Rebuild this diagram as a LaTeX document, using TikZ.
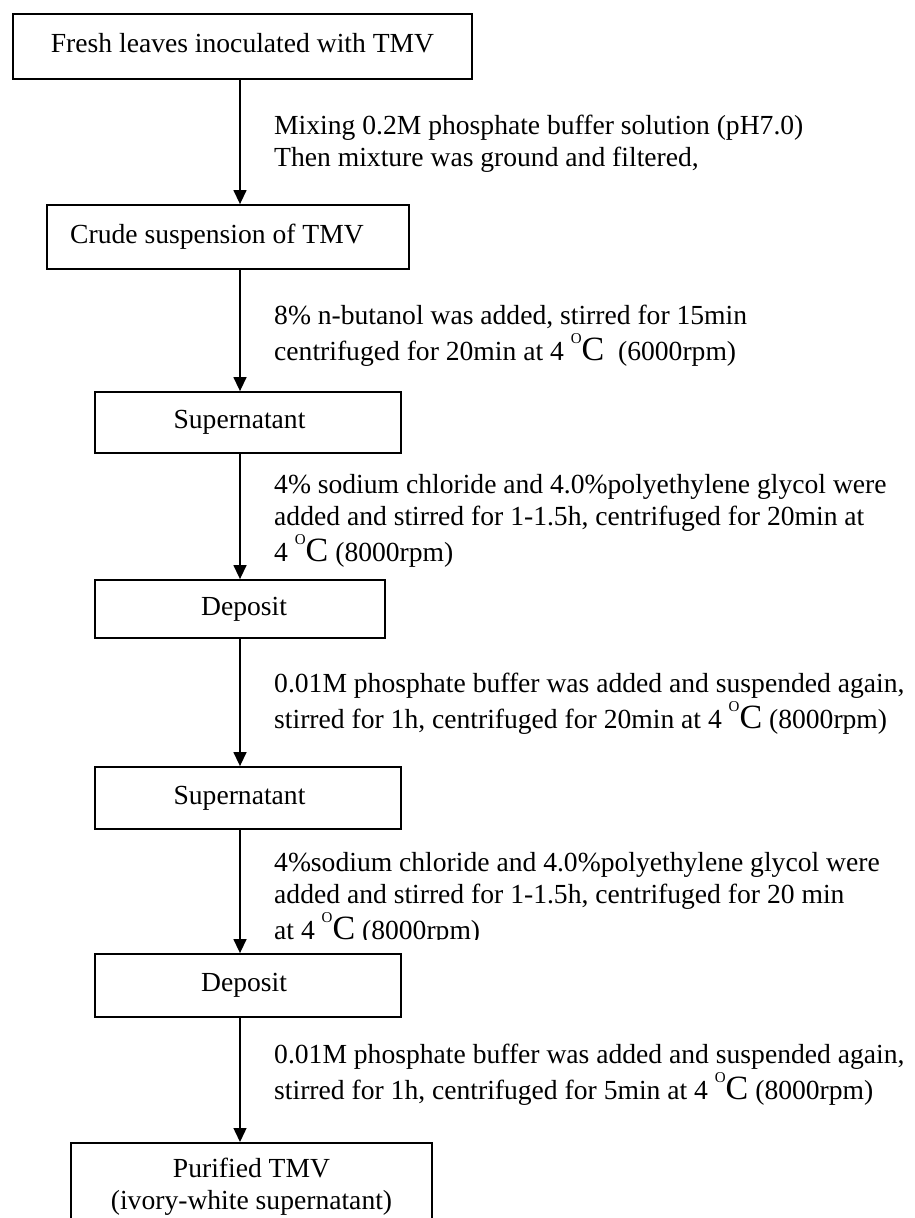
\documentclass[tikz,border=0pt]{standalone}
\usepackage{fontspec}
\setmainfont{Liberation Serif}
\usetikzlibrary{arrows.meta}

% temperature written as "O" raised over a large "C"
\newcommand\ocdeg{\raisebox{16.5pt}{\fontsize{15}{15}\selectfont O}{\fontsize{34}{34}\selectfont C}}

\tikzset{
  stepbox/.style={draw, line width=1.8pt, inner sep=0pt,
    text height=18pt, text depth=6pt, font=\fontsize{27.6}{32}\selectfont},
  flow/.style={line width=1.4pt, -{Triangle[length=14pt,width=13pt]}},
  note/.style={inner sep=0pt, anchor=base west, font=\fontsize{27.6}{32}\selectfont},
}

\begin{document}
\begin{tikzpicture}[x=1pt, y=-1pt]
\useasboundingbox (0,0) rectangle (914,1218);
\clip (0,0) rectangle (914,1218);

% process steps
\node[stepbox, minimum width=459pt, minimum height=65pt] (b1) at (242.5,46.5)
  {Fresh leaves inoculated with TMV};
\node[stepbox, minimum width=362pt, minimum height=64pt] (b2) at (228,237)
  {Crude suspension of TMV\hspace*{22pt}};
\node[stepbox, minimum width=306pt, minimum height=61pt] (b3) at (248,422.5)
  {Supernatant\hspace*{17pt}};
\node[stepbox, minimum width=290pt, minimum height=58pt] (b4) at (240,609)
  {\hspace*{8pt}Deposit};
\node[stepbox, minimum width=306pt, minimum height=62pt] (b5) at (248,798)
  {Supernatant\hspace*{17pt}};
\node[stepbox, minimum width=306pt, minimum height=63pt] (b6) at (248,985.5)
  {Deposit\hspace*{8pt}};
\node[stepbox, minimum width=361pt, anchor=north, text height=35pt, text depth=70pt]
  (b7) at (251.5,1142)
  {\begin{tabular}[t]{@{}c@{}}Purified TMV\\(ivory-white supernatant)\end{tabular}};

% connectors along one vertical axis
\coordinate (ax) at (240,0);
\draw[flow] (b1.south -| ax) -- (b2.north -| ax);
\draw[flow] (b2.south -| ax) -- (b3.north -| ax);
\draw[flow] (b3.south -| ax) -- (b4.north -| ax);
\draw[flow] (b4.south -| ax) -- (b5.north -| ax);
\draw[flow] (b5.south -| ax) -- (b6.north -| ax);
\draw[flow] (b6.south -| ax) -- (b7.north -| ax);

% step descriptions
\node[note] (t1) at (274,134) {\begin{tabular}[t]{@{}l@{}}
  Mixing 0.2M phosphate buffer solution (pH7.0)\\
  Then mixture was ground and filtered,\end{tabular}};
\node[note] (t2) at (274,324) {\begin{tabular}[t]{@{}l@{}}
  8\% n-butanol was added, stirred for 15min\\
  centrifuged for 20min at 4 \ocdeg\ \ (6000rpm)\end{tabular}};
\node[note] (t3) at (274,493) {\begin{tabular}[t]{@{}l@{}}
  4\% sodium chloride and 4.0\%polyethylene glycol were\\
  added and stirred for 1-1.5h, centrifuged for 20min at\\
  4 \ocdeg{} (8000rpm)\end{tabular}};
\node[note] (t4) at (274,692) {\begin{tabular}[t]{@{}l@{}}
  0.01M phosphate buffer was added and suspended again,\\
  stirred for 1h, centrifuged for 20min at 4 \ocdeg{} (8000rpm)\end{tabular}};
\begin{scope}
  \clip (260,830) rectangle (914,939);
  \node[note] (t5) at (274,871) {\begin{tabular}[t]{@{}l@{}}
    4\%sodium chloride and 4.0\%polyethylene glycol were\\
    added and stirred for 1-1.5h, centrifuged for 20 min\\
    at 4 \ocdeg{} (8000rpm)\end{tabular}};
\end{scope}
\node[note] (t6) at (274,1063) {\begin{tabular}[t]{@{}l@{}}
  0.01M phosphate buffer was added and suspended again,\\
  stirred for 1h, centrifuged for 5min at 4 \ocdeg{} (8000rpm)\end{tabular}};
\end{tikzpicture}
\end{document}
